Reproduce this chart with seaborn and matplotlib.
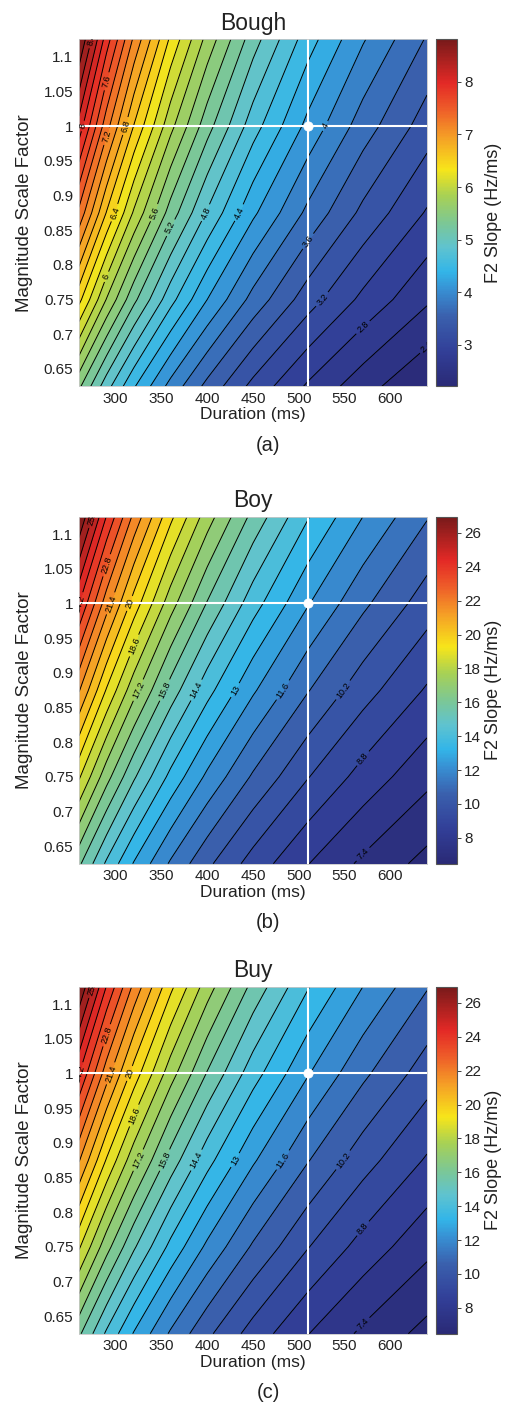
import numpy as np
import pandas as pd
import matplotlib
matplotlib.use("Agg")
import matplotlib.pyplot as plt
from matplotlib.colors import LinearSegmentedColormap, Normalize
from matplotlib.cm import ScalarMappable
import seaborn as sns

# ---- data -----------------------------------------------------------------
durations = [260, 290, 320, 360, 400, 450, 510, 570, 640]          # ms
scales = [0.625, 0.75, 0.875, 1.0, 1.125]                          # magnitude scale factor

# F2 slope (Hz/ms), one row per scale factor, one column per duration
bough_slope = [
    [5.44, 4.88, 4.42, 3.93, 3.54, 3.14, 2.77, 2.48, 2.21],
    [6.46, 5.79, 5.25, 4.67, 4.20, 3.73, 3.29, 2.95, 2.63],
    [7.35, 6.59, 5.97, 5.31, 4.78, 4.24, 3.75, 3.35, 2.98],
    [8.12, 7.28, 6.59, 5.86, 5.28, 4.69, 4.14, 3.70, 3.30],
    [8.81, 7.90, 7.16, 6.36, 5.73, 5.09, 4.49, 4.02, 3.58],
]
boy_slope = [
    [15.93, 14.28, 12.94, 11.50, 10.35, 9.20, 8.12, 7.26, 6.47],
    [18.69, 16.76, 15.19, 13.50, 12.15, 10.80, 9.53, 8.53, 7.59],
    [21.46, 19.24, 17.44, 15.50, 13.95, 12.40, 10.94, 9.79, 8.72],
    [24.23, 21.72, 19.69, 17.50, 15.75, 14.00, 12.35, 11.05, 9.84],
    [26.96, 24.17, 21.91, 19.47, 17.53, 15.58, 13.75, 12.30, 10.95],
]
buy_slope = [
    [15.93, 14.28, 12.94, 11.50, 10.35, 9.20, 8.12, 7.26, 6.47],
    [18.69, 16.76, 15.19, 13.50, 12.15, 10.80, 9.53, 8.53, 7.59],
    [21.46, 19.24, 17.44, 15.50, 13.95, 12.40, 10.94, 9.79, 8.72],
    [24.23, 21.72, 19.69, 17.50, 15.75, 14.00, 12.35, 11.05, 9.84],
    [26.96, 24.17, 21.91, 19.47, 17.53, 15.58, 13.75, 12.30, 10.95],
]

words = ["Bough", "Boy", "Buy"]
panel_tags = ["(a)", "(b)", "(c)"]
slope_tables = [bough_slope, boy_slope, buy_slope]
level_steps = [0.2, 0.7, 0.7]          # spacing of contour lines
label_anchors = [2.4, 7.4, 7.4]        # every second line, from this value, is labelled
colorbar_ticks = [[3, 4, 5, 6, 7, 8], [8, 10, 12, 14, 16, 18, 20, 22, 24, 26],
                  [8, 10, 12, 14, 16, 18, 20, 22, 24, 26]]
duration_ticks = [300, 350, 400, 450, 500, 550, 600]
scale_ticks = [0.65, 0.7, 0.75, 0.8, 0.85, 0.9, 0.95, 1.0, 1.05, 1.1]
reference_duration = 510
reference_scale = 1.0

# ---- style ----------------------------------------------------------------
sns.set_theme(style="white")
plt.rcParams["font.family"] = ["Liberation Sans", "DejaVu Sans"]
plt.rcParams["axes.linewidth"] = 0.6

jet_soft = LinearSegmentedColormap.from_list("jet_soft", [
    (0.000, "#2a2a76"),
    (0.100, "#323f98"),
    (0.200, "#3a60ad"),
    (0.270, "#388bd0"),
    (0.330, "#33b5e8"),
    (0.400, "#5fc3cf"),
    (0.470, "#7cc795"),
    (0.550, "#a8d154"),
    (0.625, "#f7e51a"),
    (0.720, "#f59e26"),
    (0.800, "#ee5c29"),
    (0.875, "#e32926"),
    (1.000, "#781a1a"),
])

W, H = 509, 1405
fig = plt.figure(figsize=(W / 100, H / 100), dpi=100)


def box(left, top, right, bottom):
    return [left / W, 1 - bottom / H, (right - left) / W, (bottom - top) / H]


panel_tops = [39.3, 516.7, 986.7]
panel_h = 347.0

for word, tag, table, step, anchor, cticks, top in zip(
        words, panel_tags, slope_tables, level_steps, label_anchors,
        colorbar_ticks, panel_tops):
    df = pd.DataFrame(table, index=scales, columns=durations)
    X, Y = np.meshgrid(df.columns.values.astype(float), df.index.values.astype(float))
    Z = df.values
    zmin, zmax = Z.min(), Z.max()

    first = anchor - step * np.floor((anchor - zmin) / step + 1e-9)
    lines = np.round(np.arange(first, zmax, step), 3)
    lines = lines[lines > zmin]
    fill_levels = np.concatenate([[zmin], lines, [zmax]])
    norm = Normalize(vmin=zmin, vmax=zmax)

    ax = fig.add_axes(box(79, top, 427, top + panel_h))
    cax = fig.add_axes(box(436, top, 457, top + panel_h))

    ax.contourf(X, Y, Z, levels=fill_levels, cmap=jet_soft, norm=norm)
    cs = ax.contour(X, Y, Z, levels=lines, colors="black", linewidths=0.7)
    labelled = [lv for lv in lines
                if min(((lv - anchor) / step) % 2, 2 - ((lv - anchor) / step) % 2) < 1e-6]
    ax.clabel(cs, levels=labelled, inline=True, fontsize=6.5, fmt="%g",
              inline_spacing=3)

    ax.axvline(reference_duration, color="white", lw=1.5)
    ax.axhline(reference_scale, color="white", lw=1.5)
    sns.scatterplot(x=[reference_duration], y=[reference_scale], ax=ax,
                    color="white", s=45, edgecolor="white", zorder=5, legend=False)

    ax.set_xlim(durations[0], durations[-1])
    ax.set_ylim(scales[0], scales[-1])
    ax.set_xticks(duration_ticks)
    ax.set_yticks(scale_ticks)
    ax.set_xticklabels([f"{v:g}" for v in duration_ticks])
    ax.set_yticklabels([f"{v:g}" for v in scale_ticks])
    ax.tick_params(length=0, labelsize=11, pad=4, colors="#222222")
    for sp in ax.spines.values():
        sp.set_color("#c8c8c8")
        sp.set_linewidth(0.6)
    ax.set_title(word, fontsize=16.5, pad=7, color="#222222")
    ax.set_xlabel("Duration (ms)", fontsize=12.5, labelpad=1, color="#222222")

    fig.text(25 / W, 1 - (top + panel_h / 2) / H, "Magnitude Scale Factor",
             rotation=90, ha="center", va="center", fontsize=13.5, color="#222222")

    cb = fig.colorbar(ScalarMappable(norm=norm, cmap=jet_soft), cax=cax, ticks=cticks)
    cb.outline.set_edgecolor("#555555")
    cb.outline.set_linewidth(0.8)
    cax.tick_params(length=3, width=0.6, direction="out", labelsize=11, pad=2,
                    colors="#222222")
    fig.text(493 / W, 1 - (top + panel_h / 2) / H, "F2 Slope (Hz/ms)",
             rotation=90, ha="center", va="center", fontsize=13, color="#222222")

    fig.text(268 / W, 1 - (top + panel_h + 59) / H, tag, ha="center", va="center",
             fontsize=14.5, color="#222222")

fig.savefig("out.png", dpi=100)
